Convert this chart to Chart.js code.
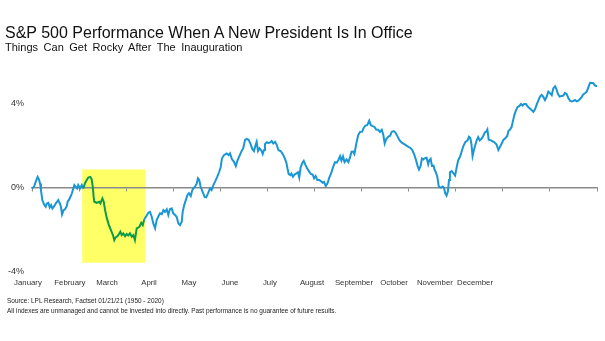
<!DOCTYPE html>
<html>
<head>
<meta charset="utf-8">
<script src="https://cdn.jsdelivr.net/npm/chart.js@4"></script>
<style>
  html, body { margin: 0; padding: 0; background: #fff; }
  #wrap { position: relative; width: 605px; height: 341px; overflow: hidden; }
  #chart { position: absolute; left: 0; top: 0; }
  .title { position: absolute; left: 5px; top: 24px; font: 16px "Liberation Sans", Arial, sans-serif; color: #111; white-space: nowrap; }
  .subtitle { position: absolute; left: 5px; top: 41px; font: 11px "Liberation Sans", Arial, sans-serif; word-spacing: 2.5px; color: #111; white-space: nowrap; }
  .note { position: absolute; left: 7px; font: 7.5px "Liberation Sans", sans-serif; color: #222; white-space: nowrap; transform: scaleX(0.86); transform-origin: 0 0; }
</style>
</head>
<body>
<div id="wrap">
  <canvas id="chart" width="605" height="341"></canvas>
  <div class="title">S&amp;P 500 Performance When A New President Is In Office</div>
  <div class="subtitle">Things Can Get Rocky After The Inauguration</div>
  <div class="note" style="top:296px">Source: LPL Research, Factset 01/21/21 (1950 - 2020)</div>
  <div class="note" style="top:306px">All indexes are unmanaged and cannot be invested into directly. Past performance is no guarantee of future results.</div>
</div>
<script>
// average S&P 500 path (% change) by trading day of the year
const tradingDay = [
  0, 0.9, 1.8, 2.5, 3.1, 3.6, 4.0, 4.6, 5.5, 6.1,
  6.6, 7.3, 7.9, 8.5, 9.1, 9.9, 10.6, 11.2, 11.7, 12.4,
  12.9, 13.4, 14.1, 14.7, 15.5, 15.9, 16.6, 17.3, 17.8, 18.4,
  18.9, 19.5, 20.1, 20.6, 21.4, 22.2, 22.9, 23.6, 24.4, 25.1,
  26.0, 26.6, 27.1, 27.5, 27.8, 28.9, 29.9, 30.5, 31.4, 32.0,
  32.6, 33.4, 34.3, 35.2, 36.1, 36.7, 37.3, 38.2, 38.8, 39.4,
  40.0, 40.7, 41.5, 42.2, 42.9, 43.7, 44.5, 45.2, 45.9, 46.7,
  47.9, 48.7, 49.4, 50.0, 50.8, 51.9, 52.6, 53.4, 54.1, 54.9,
  55.6, 56.3, 57.1, 57.9, 58.6, 59.3, 60.1, 60.8, 61.5, 62.3,
  63.0, 63.8, 64.5, 65.3, 66.0, 66.8, 67.2, 67.9, 68.7, 69.3,
  70.0, 70.8, 71.4, 71.9, 72.7, 73.5, 74.0, 74.6, 75.2, 76.1,
  77.0, 77.7, 78.5, 79.4, 80.1, 80.9, 81.8, 82.6, 83.5, 84.2,
  84.7, 85.6, 86.8, 87.7, 88.3, 89.2, 90.1, 90.9, 91.7, 92.5,
  93.5, 94.2, 95.0, 95.7, 96.6, 97.5, 98.3, 99.0, 99.7, 100.2,
  100.8, 101.5, 102.3, 102.9, 103.5, 103.9, 104.7, 105.4, 106.1, 106.9,
  107.6, 108.4, 109.1, 109.9, 111.0, 112.0, 112.8, 113.5, 114.0, 114.5,
  115.2, 115.7, 116.4, 117.1, 117.9, 118.6, 119.2, 119.8, 120.6, 121.2,
  121.9, 122.7, 123.5, 124.4, 125.2, 125.8, 126.5, 127.3, 128.1, 128.8,
  129.6, 130.3, 131.0, 131.8, 132.6, 133.5, 134.4, 135.1, 135.9, 136.6,
  137.4, 138.0, 138.7, 139.4, 140.3, 141.1, 141.8, 142.5, 143.2, 143.8,
  144.6, 145.5, 146.3, 147.2, 147.9, 148.7, 149.5, 150.4, 151.1, 151.9,
  152.7, 153.5, 154.4, 155.2, 156.0, 156.7, 157.3, 158.0, 158.9, 159.7,
  160.5, 161.3, 162.1, 162.9, 163.9, 164.9, 166.4, 167.9, 168.8, 169.6,
  170.4, 171.3, 172.0, 172.6, 173.3, 173.9, 174.5, 175.3, 176.0, 176.7,
  177.2, 177.8, 178.4, 179.1, 179.6, 180.2, 180.8, 181.4, 182.0, 182.5,
  183.2, 183.8, 184.3, 184.9, 185.5, 186.0, 186.4, 187.2, 187.9, 188.7,
  189.4, 190.1, 190.9, 191.6, 192.4, 193.3, 194.2, 194.9, 195.5, 196.0,
  196.5, 197.1, 197.7, 198.3, 199.0, 199.7, 200.5, 201.3, 202.0, 202.7,
  203.1, 203.7, 204.7, 206.1, 207.2, 208.0, 208.7, 209.5, 210.2, 211.2,
  212.0, 212.5, 213.2, 213.9, 214.5, 215.2, 215.9, 216.6, 217.3, 218.1,
  218.8, 219.5, 220.3, 221.2, 222.1, 222.9, 223.6, 224.3, 225.1, 225.8,
  226.6, 227.3, 228.0, 228.8, 229.5, 230.3, 231.0, 231.8, 232.5, 233.3,
  233.9, 234.5, 235.3, 236.2, 237.0, 237.7, 238.5, 239.2, 240.0, 240.8,
  241.5, 242.2, 242.9, 243.7, 244.4, 245.2, 245.9, 246.6, 247.4, 248.1,
  248.9, 249.6, 250.4, 250.9, 251.5, 252.0
];
const avgReturn = [
  -0.04, 0.04, 0.32, 0.51, 0.39, 0.20, -0.12, -0.59, -0.83, -0.91,
  -0.75, -0.72, -0.94, -0.83, -0.99, -0.88, -0.75, -0.67, -0.59, -0.75,
  -0.91, -1.27, -1.07, -1.03, -0.88, -0.67, -0.56, -0.40, -0.27, -0.04,
  0.12, 0.04, -0.04, 0.12, -0.04, 0.12, -0.04, 0.20, 0.36, 0.48,
  0.51, 0.39, 0.04, -0.44, -0.67, -0.72, -0.67, -0.75, -0.51, -0.67,
  -1.07, -1.46, -1.78, -2.01, -2.25, -2.49, -2.36, -2.30, -2.20, -2.09,
  -2.25, -2.17, -2.30, -2.20, -2.27, -2.17, -2.33, -2.25, -2.49, -1.93,
  -1.86, -1.67, -1.78, -1.52, -1.38, -1.19, -1.15, -1.38, -1.70, -1.93,
  -1.54, -1.38, -1.22, -1.26, -1.07, -1.15, -1.03, -1.30, -1.03, -0.99,
  -1.22, -1.30, -1.38, -1.70, -1.78, -1.62, -1.15, -0.83, -0.56, -0.36,
  -0.27, -0.40, -0.15, -0.04, 0.04, 0.20, 0.44, 0.36, 0.04, -0.20,
  -0.44, -0.46, -0.27, -0.04, -0.12, 0.12, 0.32, 0.51, 0.75, 0.99,
  1.38, 1.54, 1.62, 1.54, 1.62, 1.34, 1.22, 1.02, 1.30, 1.49,
  1.74, 1.86, 2.25, 2.31, 2.27, 2.06, 1.82, 1.73, 2.01, 2.17,
  1.73, 1.86, 1.76, 1.59, 1.78, 2.06, 2.15, 2.12, 2.13, 2.21,
  2.09, 2.17, 2.04, 1.78, 1.72, 1.56, 1.37, 1.16, 0.88, 0.64,
  0.59, 0.67, 0.51, 0.62, 0.67, 0.73, 0.48, 0.95, 1.18, 1.27,
  1.09, 0.92, 0.78, 0.64, 0.62, 0.44, 0.55, 0.36, 0.36, 0.31,
  0.23, 0.27, 0.07, 0.20, 0.47, 0.71, 1.00, 1.20, 1.18, 1.30,
  1.49, 1.28, 1.48, 1.21, 1.33, 1.21, 1.42, 1.70, 1.71, 1.59,
  2.06, 2.49, 2.64, 2.65, 2.81, 2.94, 2.96, 3.17, 2.96, 2.91,
  2.88, 2.75, 2.74, 2.64, 2.74, 2.49, 2.09, 2.30, 2.41, 2.46,
  2.65, 2.68, 2.61, 2.45, 2.25, 2.13, 2.04, 1.93, 1.88, 1.78,
  1.60, 1.30, 1.02, 0.86, 1.02, 1.38, 1.33, 1.40, 1.42, 1.11,
  1.30, 1.37, 1.02, 1.04, 0.83, 0.71, 0.50, 0.07, 0.00, 0.00,
  0.05, -0.02, -0.27, -0.38, -0.17, 0.36, 0.73, 0.78, 0.69, 0.57,
  0.95, 1.30, 1.46, 1.70, 1.97, 2.16, 2.23, 2.41, 2.35, 2.06,
  1.50, 1.78, 2.01, 2.23, 2.39, 2.24, 2.31, 2.46, 2.62, 2.67,
  2.75, 2.27, 2.24, 2.16, 2.04, 1.78, 1.92, 2.09, 2.25, 2.35,
  2.46, 2.68, 2.75, 2.87, 3.15, 3.46, 3.67, 3.82, 3.86, 3.96,
  3.89, 3.96, 3.96, 3.83, 3.75, 3.67, 3.59, 3.70, 3.93, 4.12,
  4.31, 4.39, 4.31, 4.15, 4.29, 4.55, 4.48, 4.38, 4.70, 4.80,
  4.67, 4.46, 4.31, 4.34, 4.36, 4.49, 4.43, 4.25, 4.11, 4.08,
  4.11, 4.15, 4.09, 4.12, 4.20, 4.30, 4.42, 4.47, 4.54, 4.74,
  4.97, 4.96, 4.95, 4.86, 4.81, 4.81
];

// axis labels
const monthNames = ['January', 'February', 'March', 'April', 'May', 'June',
  'July', 'August', 'September', 'October', 'November', 'December'];
const monthLabelDay = [-1.8, 16.9, 33.5, 52.2, 70.0, 88.3, 106.1, 124.9, 143.6, 161.5, 179.7, 197.6];
const yTickValues = [-4, 0, 4];

// the "rocky" stretch after the inauguration
const highlightDays = [22.4, 50.4];
const highlightReturns = [-3.56, 0.86];

const blue = '#1a96d4';
const green = '#0c9a48';

const points = tradingDay.map((d, i) => ({ x: d, y: avgReturn[i] }));
const inHighlight = d => d >= highlightDays[0] && d <= highlightDays[1];

// yellow box goes under the axes and the line
const highlightBox = {
  id: 'highlightBox',
  beforeDraw(chart) {
    const { ctx, scales } = chart;
    const x0 = scales.x.getPixelForValue(highlightDays[0]);
    const x1 = scales.x.getPixelForValue(highlightDays[1]);
    const y0 = scales.y.getPixelForValue(highlightReturns[1]);
    const y1 = scales.y.getPixelForValue(highlightReturns[0]);
    ctx.save();
    ctx.fillStyle = '#ffff66';
    ctx.fillRect(x0, y0, x1 - x0, y1 - y0);
    ctx.restore();
  }
};

new Chart(document.getElementById('chart'), {
  type: 'line',
  data: {
    datasets: [{
      data: points,
      borderColor: blue,
      borderWidth: 2,
      pointRadius: 0,
      tension: 0,
      segment: {
        borderColor: c => (inHighlight(c.p0.parsed.x) && inHighlight(c.p1.parsed.x)) ? green : blue
      }
    }]
  },
  options: {
    responsive: false,
    animation: false,
    devicePixelRatio: 1,
    layout: { padding: { top: 61, right: 8, bottom: 49, left: 0 } },
    plugins: { legend: { display: false }, tooltip: { enabled: false } },
    scales: {
      x: {
        type: 'linear',
        min: 0,
        max: 252,
        grid: { display: false, drawTicks: false },
        border: { display: false },
        afterBuildTicks: s => { s.ticks = monthLabelDay.map(v => ({ value: v })); },
        afterFit: s => { s.height = 20; },
        ticks: {
          autoSkip: false,
          maxRotation: 0,
          padding: 6,
          color: '#333',
          font: { family: '"Liberation Sans", Arial', size: 7.8 },
          callback: (v, i) => monthNames[i]
        }
      },
      y: {
        min: -4,
        max: 6,
        grid: { display: false, drawTicks: false },
        border: { display: false },
        afterBuildTicks: s => { s.ticks = yTickValues.map(v => ({ value: v })); },
        afterFit: s => { s.width = 32; },
        ticks: {
          padding: 8,
          color: '#333',
          font: { family: '"Liberation Sans", Arial', size: 9 },
          callback: v => v + '%'
        }
      },
      // zero line with the month tick marks
      zero: {
        type: 'linear',
        axis: 'x',
        position: { y: 0 },
        min: 0,
        max: 252,
        ticks: { display: false, stepSize: 21 },
        grid: { drawOnChartArea: false, drawTicks: true, tickLength: 3, color: '#8a8a8a', lineWidth: 1 },
        border: { color: '#8a8a8a', width: 1.5 }
      }
    }
  },
  plugins: [highlightBox]
});
</script>
</body>
</html>
